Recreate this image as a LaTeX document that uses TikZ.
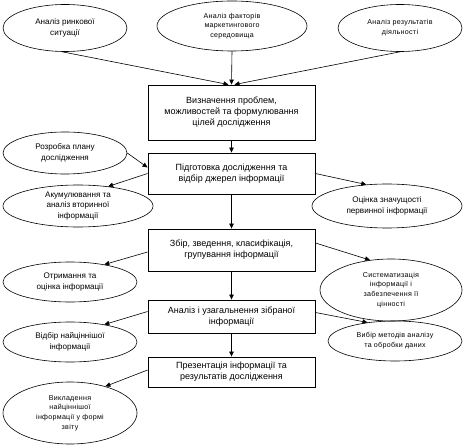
\documentclass[tikz,border=0pt]{standalone}
\usepackage{fontspec}
\setmainfont{Liberation Sans}
\newfontfamily\smallfam[LetterSpace=4]{Liberation Sans}
\usetikzlibrary{shapes.geometric,arrows.meta,calc}
\begin{document}
\begin{tikzpicture}[x=1bp,y=-1bp,
  box/.style={draw, line width=0.9bp, rectangle, minimum width=167bp, inner sep=0pt, align=center, font=\fontsize{9bp}{11bp}\selectfont},
  ell/.style={draw, line width=0.6bp, ellipse, inner sep=0pt, align=center, font=\fontsize{8.1bp}{10.8bp}\selectfont},
  ells/.style={ell, font=\smallfam\fontsize{7.1bp}{9.8bp}\selectfont},
  arr/.style={line width=0.6bp, -{Triangle[length=5bp,width=4.5bp]}}]
\useasboundingbox (0,0) rectangle (464,448);
% boxes
\node[box, minimum height=55bp] (B1) at (231.5,112.5) {Визначення проблем,\\можливостей та формулювання\\цілей дослідження};
\node[box, minimum height=41bp] (B2) at (231.5,173.5) {Підготовка дослідження та\\відбір джерел інформації};
\node[box, minimum height=42bp] (B3) at (231.5,250) {Збір, зведення, класифікація,\\групування інформації};
\node[box, minimum height=33bp] (B4) at (231.5,316.5) {Аналіз і узагальнення зібраної\\інформації};
\node[box, minimum height=30bp] (B5) at (231.5,372) {Презентація інформації та\\результатів дослідження};
% ellipses
\node[ell, minimum width=124bp, minimum height=47bp] (E1) at (65,28) {Аналіз ринкової\\ситуації};
\node[ells, minimum width=150bp, minimum height=50bp] (E2) at (232,26) {Аналіз факторів\\маркетингового\\середовища};
\node[ells, minimum width=124bp, minimum height=47bp] (E3) at (400,28) {Аналіз результатів\\діяльності};
\node[ell, minimum width=124bp, minimum height=42bp] (E4) at (65,153) {Розробка плану\\дослідження};
\node[ell, minimum width=150bp, minimum height=42bp] (E5) at (78,206) {Акумулювання та\\аналіз вторинної\\інформації};
\node[ell, minimum width=150bp, minimum height=44bp] (E6) at (387,206) {Оцінка значущості\\первинної інформації};
\node[ell, minimum width=134bp, minimum height=40bp] (E7) at (70,282) {Отримання та\\оцінка інформації};
\node[ells, minimum width=142bp, minimum height=62bp] (E8) at (391,290) {Систематизація\\інформації і\\забезпечення її\\цінності};
\node[ell, minimum width=134bp, minimum height=40bp] (E9) at (70,342) {Відбір найціннішої\\інформації};
\node[ells, minimum width=134bp, minimum height=40bp] (E10) at (395,341) {Вибір методів аналізу\\та обробки даних};
\node[ells, minimum width=134bp, minimum height=62bp] (E11) at (70,413) {Викладення\\найціннішої\\інформації у формі\\звіту};
% connectors
\draw[arr] (E1.263) -- ($(B1.north)+(-3,0)$);
\draw[arr] (E2.south) -- (B1.north);
\draw[arr] (E3.south) -- ($(B1.north)+(3,0)$);
\draw[arr] (B1.south) -- (B2.north);
\draw[arr] (E4.east) -- ($(B2.west)+(0,-6)$);
\draw[arr] (B2.west) -- (E5.33);
\draw[arr] (B2.east) -- (E6.134);
\draw[arr] (B2.south) -- (B3.north);
\draw[arr] ($(B3.west)+(0,2)$) -- (E7.27);
\draw[arr] ($(B3.east)+(0,-7)$) -- (E8.125);
\draw[arr] (B3.south) -- (B4.north);
\draw[arr] ($(B4.west)+(0,-5)$) -- (E9.27);
\draw[arr] ($(B4.east)+(0,-4)$) -- (E10.146);
\draw[arr] (B4.south) -- (B5.north);
\draw[arr] ($(B5.west)+(0,-2)$) -- (E11.37);
\end{tikzpicture}
\end{document}
